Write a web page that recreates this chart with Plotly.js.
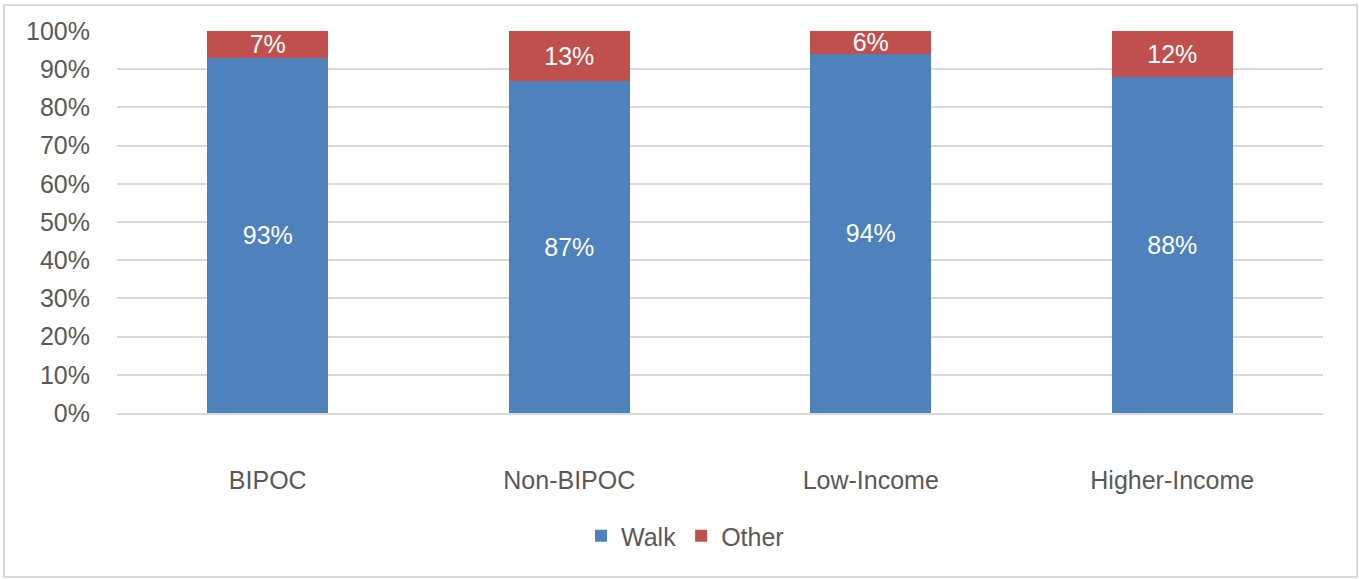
<!DOCTYPE html>
<html>
<head>
<meta charset="utf-8">
<script src="https://cdn.plot.ly/plotly-3.0.1.min.js"></script>
<style>
  html, body { margin: 0; padding: 0; background: #fff; }
  #chart { width: 1359px; height: 579px; }
</style>
</head>
<body>
<div id="chart"></div>
<script>
// Share of trips by mode, per group
const categories = ['BIPOC', 'Non-BIPOC', 'Low-Income', 'Higher-Income'];
const walkPct = [93, 87, 94, 88];
const otherPct = [7, 13, 6, 12];
const yTicks = [0, 10, 20, 30, 40, 50, 60, 70, 80, 90, 100];

const FONT = 'Liberation Sans, Arial, sans-serif';
const labelFont = { family: FONT, size: 25, color: '#ffffff' };

const traces = [
  {
    type: 'bar', name: 'Walk', x: categories, y: walkPct,
    marker: { color: '#4F81BD' },
    text: walkPct.map(v => v + '%'), textposition: 'inside',
    insidetextanchor: 'middle', textfont: labelFont,
    constraintext: 'none', hoverinfo: 'skip'
  },
  {
    type: 'bar', name: 'Other', x: categories, y: otherPct,
    marker: { color: '#C0504D' },
    text: otherPct.map(v => v + '%'), textposition: 'inside',
    insidetextanchor: 'middle', textfont: labelFont,
    constraintext: 'none', hoverinfo: 'skip'
  }
];

const W = 1359, H = 579;
const m = { l: 117, r: 36, t: 31, b: 166 };
const pw = W - m.l - m.r, ph = H - m.t - m.b;
// frame around the whole figure, expressed in paper units
const px = v => (v - m.l) / pw;
const py = v => (H - m.b - v) / ph;

const layout = {
  width: W, height: H,
  margin: m,
  paper_bgcolor: '#ffffff', plot_bgcolor: '#ffffff',
  barmode: 'stack', bargap: 0.6,
  font: { family: FONT, size: 25, color: '#595959' },
  showlegend: true,
  legend: {
    orientation: 'h', x: px(685), xanchor: 'center', y: py(536), yanchor: 'middle',
    font: { size: 25, color: '#595959' }, traceorder: 'normal',
    itemwidth: 30, tracegroupgap: 0
  },
  xaxis: {
    type: 'category', showgrid: false, zeroline: false, showline: true,
    linecolor: '#d9d9d9', linewidth: 2, ticks: '',
    ticklabelstandoff: 44, tickfont: { size: 25, color: '#595959' }, fixedrange: true
  },
  yaxis: {
    range: [0, 100], tickvals: yTicks, ticktext: yTicks.map(v => v + '%'),
    showgrid: true, gridcolor: '#d9d9d9', gridwidth: 2, zeroline: false,
    showline: false, ticks: '', ticklabelstandoff: 26,
    tickfont: { size: 25, color: '#595959' }, fixedrange: true
  },
  shapes: [{
    type: 'rect', xref: 'paper', yref: 'paper',
    x0: px(4), x1: px(1357), y0: py(577), y1: py(5),
    line: { color: '#d9d9d9', width: 2 }, fillcolor: 'rgba(0,0,0,0)', layer: 'below'
  }]
};

Plotly.newPlot('chart', traces, layout, { displayModeBar: false, staticPlot: true });
</script>
</body>
</html>
